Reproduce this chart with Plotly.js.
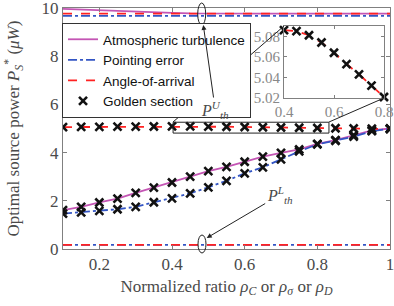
<!DOCTYPE html>
<html>
<head>
<meta charset="utf-8">
<script src="https://cdn.plot.ly/plotly-3.0.1.min.js"></script>
<style>html,body{margin:0;padding:0;background:#fff;}#chart{width:394px;height:306px;}</style>
</head>
<body>
<div id="chart"></div>
<script>
// ---- data ----
var ratio = [0.1,0.15,0.2,0.25,0.3,0.35,0.4,0.45,0.5,0.55,0.6,0.65,0.7,0.75,0.8,0.85,0.9,0.95,1.0];
var atmospheric = [1.61,1.75,1.93,2.09,2.33,2.55,2.76,3.0,3.23,3.41,3.62,3.83,3.99,4.13,4.36,4.52,4.72,4.92,5.0];
var pointing = [1.47,1.52,1.58,1.65,1.75,1.94,2.10,2.31,2.56,2.83,3.14,3.39,3.72,4.05,4.34,4.49,4.66,4.89,4.99];
var angleArrival = [5.060,5.065,5.070,5.075,5.080,5.084,5.086,5.085,5.081,5.074,5.064,5.053,5.043,5.032,5.021,5.010,5.000,4.990,4.980];
var upperAtm = [9.96,9.93,9.90,9.87,9.84,9.82,9.80,9.78,9.77,9.77,9.77,9.77,9.77,9.77,9.77,9.77,9.77,9.77,9.77];
var upperPoint = [9.67,9.67,9.67,9.67,9.67,9.67,9.67,9.67,9.67,9.67,9.67,9.67,9.67,9.67,9.67,9.67,9.67,9.67,9.67];
var upperAoA = [9.77,9.77,9.77,9.77,9.77,9.77,9.77,9.77,9.77,9.77,9.77,9.77,9.77,9.77,9.77,9.77,9.77,9.77,9.77];
var lowerAll = [0.17,0.17,0.17,0.17,0.17,0.17,0.17,0.17,0.17,0.17,0.17,0.17,0.17,0.17,0.17,0.17,0.17,0.17,0.17];
var insetStart = 6, insetEnd = 15; // ratio 0.4 .. 0.8
var legendNames = ['Atmospheric turbulence','Pointing error','Angle-of-arrival','Golden section'];

var MAG = '#C455B4', BLUE = '#3355C4', RED = '#FF2222';
var mk = {symbol:'x-thin', size:8, line:{width:2.6, color:'#111'}, color:'#111'};

var traces = [];
// threshold lines
traces.push({x:ratio, y:upperAtm, mode:'lines', line:{color:MAG,width:1.8}, showlegend:false, hoverinfo:'skip'});
traces.push({x:ratio, y:upperPoint, mode:'lines', line:{color:BLUE,width:1.8,dash:'dashdot'}, showlegend:false, hoverinfo:'skip'});
traces.push({x:ratio, y:upperAoA, mode:'lines', line:{color:RED,width:1.8,dash:'dash'}, showlegend:false, hoverinfo:'skip'});
traces.push({x:ratio, y:lowerAll, mode:'lines', line:{color:BLUE,width:1.8,dash:'dashdot'}, showlegend:false, hoverinfo:'skip'});
traces.push({x:ratio, y:lowerAll, mode:'lines', line:{color:RED,width:1.8,dash:'dash'}, showlegend:false, hoverinfo:'skip'});
// main curves
traces.push({x:ratio, y:atmospheric, mode:'lines', name:legendNames[0], line:{color:MAG,width:1.8}});
traces.push({x:ratio, y:pointing, mode:'lines', name:legendNames[1], line:{color:BLUE,width:1.8,dash:'dashdot'}});
traces.push({x:ratio, y:angleArrival, mode:'lines', name:legendNames[2], line:{color:RED,width:1.8,dash:'dash'}});
// golden section markers
traces.push({x:ratio, y:atmospheric, mode:'markers', name:legendNames[3], marker:mk, legendgroup:'g'});
traces.push({x:ratio, y:pointing, mode:'markers', marker:mk, showlegend:false, legendgroup:'g'});
traces.push({x:ratio, y:angleArrival, mode:'markers', marker:mk, showlegend:false, legendgroup:'g'});
// inset
var ix = ratio.slice(insetStart, insetEnd), iy = angleArrival.slice(insetStart, insetEnd);
traces.push({x:ix, y:iy, xaxis:'x2', yaxis:'y2', mode:'lines', line:{color:RED,width:1.8,dash:'dash'}, showlegend:false});
traces.push({x:ix, y:iy, xaxis:'x2', yaxis:'y2', mode:'markers', marker:mk, showlegend:false, cliponaxis:false});

var SERIF = 'Liberation Serif, Times New Roman, serif';
var GRAY = '#4a4a4a';
var AX = '#808080';

function px2x(p){return (p-63)/327;}
function px2y(p){return (249-p)/241;}

var layout = {
  width:394, height:306,
  margin:{l:63, r:4, t:8, b:57},
  paper_bgcolor:'#fff', plot_bgcolor:'#fff',
  showlegend:true,
  legend:{x:-0.003, xanchor:'left', y:px2y(23), yanchor:'top', bgcolor:'#fff', bordercolor:'#333', borderwidth:1,
          font:{family:'Liberation Sans, Arial, sans-serif', size:13.5, color:'#111'}, tracegroupgap:0},
  xaxis:{range:[0.1,1], tickvals:[0.2,0.4,0.6,0.8,1], ticktext:['0.2','0.4','0.6','0.8','1'], ticklabeloverflow:'allow',
         ticks:'inside', ticklen:4, tickcolor:AX, showline:true, linecolor:AX, linewidth:1, mirror:'ticks',
         showgrid:false, zeroline:false, tickfont:{family:SERIF, size:17, color:GRAY},
         title:{text:'Normalized ratio <i>ρ</i><sub><i>C</i></sub> or <i>ρ</i><sub><i>σ</i></sub> or <i>ρ</i><sub><i>D</i></sub>', font:{family:SERIF, size:17, color:GRAY}, standoff:6}},
  yaxis:{range:[0,10], tickvals:[0,2,4,6,8,10], ticklabeloverflow:'allow',
         ticks:'inside', ticklen:4, tickcolor:AX, showline:true, linecolor:AX, linewidth:1, mirror:'ticks',
         showgrid:false, zeroline:false, tickfont:{family:SERIF, size:17, color:GRAY},
         title:{text:'Optimal source power <i>P</i><sub><i>S</i></sub><sup>*</sup> (<i>μW</i>)', font:{family:SERIF, size:17, color:GRAY}}},
  xaxis2:{domain:[px2x(284), px2x(384)], anchor:'y2', range:[0.4,0.8], tickvals:[0.4,0.6,0.8],
          ticks:'inside', ticklen:3, tickcolor:AX, showline:true, linecolor:AX, mirror:'ticks', showgrid:false, zeroline:false,
          tickfont:{family:SERIF, size:15, color:'#888'}},
  yaxis2:{domain:[px2y(98), px2y(26)], anchor:'x2', range:[5.02,5.09], tickvals:[5.02,5.04,5.06,5.08], tickformat:'.2f',
          ticks:'inside', ticklen:3, tickcolor:AX, showline:true, linecolor:AX, mirror:'ticks', showgrid:false, zeroline:false,
          tickfont:{family:SERIF, size:15, color:'#888'}},
  shapes:[
    {type:'rect', xref:'x', yref:'y', x0:0.403, x1:0.832, y0:4.81, y1:5.26, line:{color:'#222', width:1}},
    {type:'line', xref:'paper', yref:'paper', x0:px2x(173), y0:px2y(122), x1:px2x(284), y1:px2y(26), line:{color:'#222', width:1}},
    {type:'line', xref:'paper', yref:'paper', x0:px2x(329), y0:px2y(122), x1:px2x(384), y1:px2y(98), line:{color:'#222', width:1}},
    {type:'circle', xref:'paper', yref:'paper', x0:px2x(197.7), x1:px2x(205.7), y0:px2y(25), y1:px2y(3), line:{color:'#222', width:1}},
    {type:'circle', xref:'paper', yref:'paper', x0:px2x(198), x1:px2x(206), y0:px2y(253), y1:px2y(235), line:{color:'#222', width:1}}
  ],
  annotations:[
    {xref:'paper', yref:'paper', x:px2x(203.3), y:px2y(25), ax:12, ay:85, axref:'pixel', ayref:'pixel',
     text:'<i>P</i><sup><i>U</i></sup><sub><i>th</i></sub>', showarrow:true, arrowhead:2, arrowsize:1, arrowwidth:1, arrowcolor:'#222',
     font:{family:SERIF, size:16, color:GRAY}},
    {xref:'paper', yref:'paper', x:px2x(206.7), y:px2y(238), ax:73, ay:-43, axref:'pixel', ayref:'pixel',
     text:'<i>P</i><sup><i>L</i></sup><sub><i>th</i></sub>', showarrow:true, arrowhead:2, arrowsize:1, arrowwidth:1, arrowcolor:'#222',
     font:{family:SERIF, size:16, color:GRAY}}
  ]
};

Plotly.newPlot('chart', traces, layout, {displayModeBar:false, staticPlot:true});
</script>
</body>
</html>
